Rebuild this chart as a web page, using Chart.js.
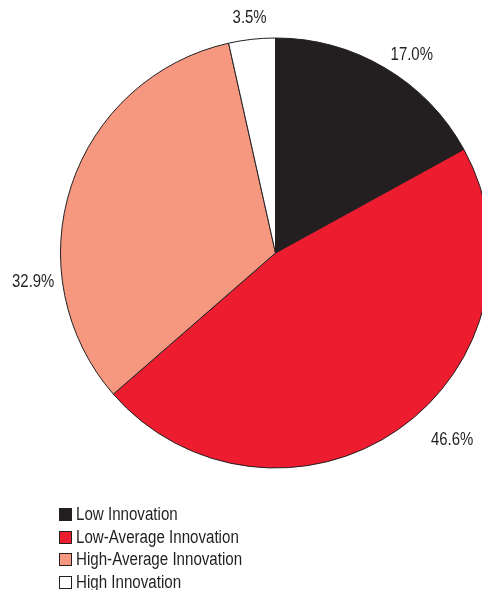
<!DOCTYPE html>
<html>
<head>
<meta charset="utf-8">
<script src="https://cdn.jsdelivr.net/npm/chart.js@4.4.1/dist/chart.umd.min.js"></script>
<style>
    html, body { margin: 0; padding: 0; background: #fff; overflow: hidden; width: 482px; height: 590px; }
    #wrap { position: relative; width: 482px; height: 590px; overflow: hidden; }
    #pie { position: absolute; left: 0; top: 0; }
    #legend { position: absolute; left: 59px; top: 503px; font-family: 'Liberation Sans', Arial, sans-serif; font-size: 18px; color: #231f20; }
    #legend div { height: 22.5px; line-height: 22px; white-space: nowrap; }
    #legend .swatch { display: inline-block; width: 11px; height: 11px; border: 1px solid #231f20; margin-right: 4px; vertical-align: -1px; }
    /* condensed look: squeeze regular sans horizontally */
    #legend .name { display: inline-block; transform: scaleX(0.84); transform-origin: left center; }
</style>
</head>
<body>
<div id="wrap">
    <canvas id="pie" width="560" height="590"></canvas>
    <div id="legend"></div>
</div>
<script>
const categories = ['Low Innovation', 'Low-Average Innovation', 'High-Average Innovation', 'High Innovation'];
const shares = [17.0, 46.6, 32.9, 3.5];
const sliceColors = ['#231f20', '#ed1c2e', '#f5987f', '#ffffff'];

// label placement around the pie: [angle shift in degrees, gap past the rim]
const labelPlacement = [[4, 25], [-8.5, 42], [-25, 29], [0, 21]];

const FONT = "'Liberation Sans', Arial, sans-serif";
const SQUEEZE = 0.83;

const outsideLabels = {
    id: 'outsideLabels',
    afterDatasetsDraw(chart) {
        const ctx = chart.ctx;
        const meta = chart.getDatasetMeta(0);
        meta.data.forEach((arc, i) => {
            const p = arc.getProps(['x', 'y', 'startAngle', 'endAngle', 'outerRadius'], true);
            const shift = labelPlacement[i][0] * Math.PI / 180;
            const mid = (p.startAngle + p.endAngle) / 2 + shift;
            const r = p.outerRadius + labelPlacement[i][1];
            ctx.save();
            ctx.font = '18px ' + FONT;
            ctx.fillStyle = '#231f20';
            ctx.textAlign = 'center';
            ctx.textBaseline = 'middle';
            ctx.translate(p.x + Math.cos(mid) * r, p.y + Math.sin(mid) * r);
            ctx.scale(SQUEEZE, 1);
            ctx.fillText(shares[i].toFixed(1) + '%', 0, 0);
            ctx.restore();
        });
    }
};

const chart = new Chart(document.querySelector('#pie'), {
    type: 'pie',
    data: {
        labels: categories,
        datasets: [{
            data: shares,
            backgroundColor: sliceColors,
            borderColor: '#231f20',
            borderWidth: 1,
            radius: 215,
            hoverOffset: 0,
        }]
    },
    options: {
        responsive: false,
        animation: false,
        events: [],
        layout: {
            padding: { left: 60, right: 69, top: 38, bottom: 122 }
        },
        plugins: {
            legend: { display: false },
            tooltip: { enabled: false },
        }
    },
    plugins: [outsideLabels],
});

// legend rows
const legendBox = document.querySelector('#legend');
categories.forEach((name, i) => {
    const row = document.createElement('div');
    const swatch = document.createElement('span');
    swatch.className = 'swatch';
    swatch.style.background = sliceColors[i];
    const text = document.createElement('span');
    text.className = 'name';
    text.textContent = name;
    row.appendChild(swatch);
    row.appendChild(text);
    legendBox.appendChild(row);
});
</script>
</body>
</html>
